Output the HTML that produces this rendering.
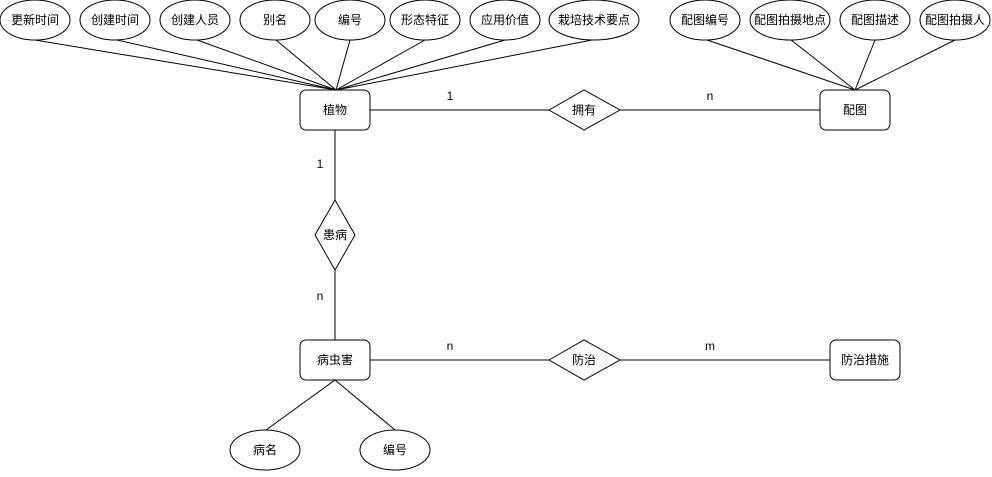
<!DOCTYPE html>
<html><head><meta charset="utf-8"><style>
html,body{margin:0;padding:0;background:#fff;}
svg text{font-family:"Liberation Sans","Noto Sans CJK SC",sans-serif;font-size:12px;fill:#000;}
</style></head><body>
<svg width="992" height="472" viewBox="0 0 992 472" xmlns="http://www.w3.org/2000/svg">
<g stroke="#000" stroke-width="1" fill="none">
<line x1="35" y1="40" x2="336" y2="90"/>
<line x1="117" y1="40" x2="336" y2="90"/>
<line x1="197" y1="40" x2="336" y2="90"/>
<line x1="276" y1="40" x2="336" y2="90"/>
<line x1="350" y1="40" x2="336" y2="90"/>
<line x1="425" y1="40" x2="336" y2="90"/>
<line x1="505" y1="40" x2="336" y2="90"/>
<line x1="592" y1="40" x2="336" y2="90"/>
<line x1="707" y1="40" x2="855" y2="90"/>
<line x1="791" y1="40" x2="855" y2="90"/>
<line x1="875" y1="40" x2="855" y2="90"/>
<line x1="955" y1="40" x2="855" y2="90"/>
<line x1="370" y1="110" x2="549" y2="110"/>
<line x1="620" y1="110" x2="820" y2="110"/>
<line x1="335" y1="130" x2="335" y2="200"/>
<line x1="335" y1="270" x2="335" y2="340"/>
<line x1="370" y1="360" x2="549" y2="360"/>
<line x1="620" y1="360" x2="830" y2="360"/>
<line x1="335" y1="380" x2="266" y2="430"/>
<line x1="335" y1="380" x2="395" y2="430"/>
</g>
<g stroke="#000" fill="#fff">
<g><ellipse cx="35" cy="20" rx="35" ry="20"/><text x="35" y="24" text-anchor="middle" stroke="none">更新时间</text></g>
<g><ellipse cx="115" cy="20" rx="35" ry="20"/><text x="115" y="24" text-anchor="middle" stroke="none">创建时间</text></g>
<g><ellipse cx="195" cy="20" rx="35" ry="20"/><text x="195" y="24" text-anchor="middle" stroke="none">创建人员</text></g>
<g><ellipse cx="275" cy="20" rx="35" ry="20"/><text x="275" y="24" text-anchor="middle" stroke="none">别名</text></g>
<g><ellipse cx="350" cy="20" rx="35" ry="20"/><text x="350" y="24" text-anchor="middle" stroke="none">编号</text></g>
<g><ellipse cx="425" cy="20" rx="35" ry="20"/><text x="425" y="24" text-anchor="middle" stroke="none">形态特征</text></g>
<g><ellipse cx="505" cy="20" rx="35" ry="20"/><text x="505" y="24" text-anchor="middle" stroke="none">应用价值</text></g>
<g><ellipse cx="594" cy="20" rx="45" ry="20"/><text x="594" y="24" text-anchor="middle" stroke="none">栽培技术要点</text></g>
<g><ellipse cx="705" cy="20" rx="35" ry="20"/><text x="705" y="24" text-anchor="middle" stroke="none">配图编号</text></g>
<g><ellipse cx="790" cy="20" rx="40" ry="20"/><text x="790" y="24" text-anchor="middle" stroke="none">配图拍摄地点</text></g>
<g><ellipse cx="875" cy="20" rx="35" ry="20"/><text x="875" y="24" text-anchor="middle" stroke="none">配图描述</text></g>
<g><ellipse cx="955" cy="20" rx="35" ry="20"/><text x="955" y="24" text-anchor="middle" stroke="none">配图拍摄人</text></g>
<g><rect x="300" y="90" width="70" height="40" rx="6"/><text x="335" y="114" text-anchor="middle" stroke="none">植物</text></g>
<g><rect x="820" y="90" width="70" height="40" rx="6"/><text x="855" y="114" text-anchor="middle" stroke="none">配图</text></g>
<g><polygon points="549,110 584,90 620,110 584,130"/><text x="584" y="114" text-anchor="middle" stroke="none">拥有</text></g>
<g><polygon points="315,235 335,200 355,235 335,270"/><text x="335" y="239" text-anchor="middle" stroke="none">患病</text></g>
<g><rect x="300" y="340" width="70" height="40" rx="6"/><text x="335" y="364" text-anchor="middle" stroke="none">病虫害</text></g>
<g><polygon points="549,360 584,340 620,360 584,380"/><text x="584" y="364" text-anchor="middle" stroke="none">防治</text></g>
<g><rect x="830" y="340" width="70" height="40" rx="6"/><text x="865" y="364" text-anchor="middle" stroke="none">防治措施</text></g>
<g><ellipse cx="265" cy="450" rx="35" ry="20"/><text x="265" y="454" text-anchor="middle" stroke="none">病名</text></g>
<g><ellipse cx="395" cy="450" rx="35" ry="20"/><text x="395" y="454" text-anchor="middle" stroke="none">编号</text></g>
</g>
<g>
<text x="450" y="100" text-anchor="middle">1</text>
<text x="710" y="100" text-anchor="middle">n</text>
<text x="320" y="168" text-anchor="middle">1</text>
<text x="320" y="300" text-anchor="middle">n</text>
<text x="450" y="350" text-anchor="middle">n</text>
<text x="710" y="350" text-anchor="middle">m</text>
</g>
</svg>
</body></html>
